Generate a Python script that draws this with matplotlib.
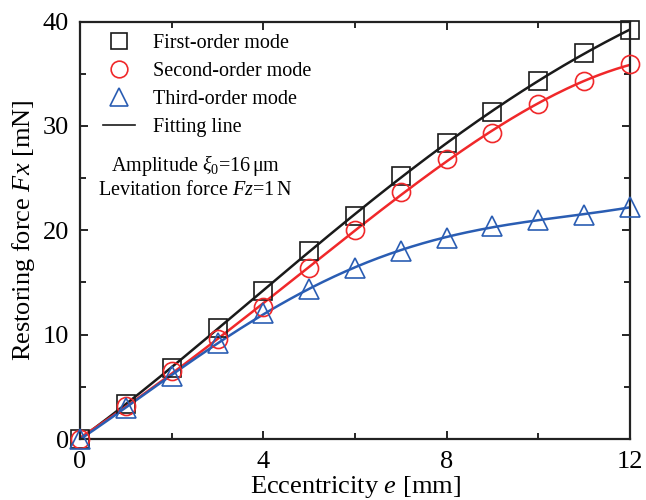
import numpy as np
import matplotlib

matplotlib.use("Agg")
import matplotlib.pyplot as plt
from matplotlib.lines import Line2D

plt.rcParams["font.family"] = ["Liberation Serif", "DejaVu Serif"]
plt.rcParams["mathtext.fontset"] = "custom"
plt.rcParams["mathtext.rm"] = "Liberation Serif"
plt.rcParams["mathtext.it"] = "Liberation Serif:italic"

# eccentricity e [mm] and restoring force Fx [mN] for each vibration mode
ecc = [0, 1, 2, 3, 4, 5, 6, 7, 8, 9, 10, 11, 12]
force_first = [0.0, 3.4, 6.8, 10.6, 14.2, 18.0, 21.4, 25.2, 28.4, 31.3, 34.3, 37.0, 39.2]
force_second = [0.0, 3.2, 6.5, 9.6, 12.6, 16.4, 20.0, 23.7, 26.8, 29.3, 32.1, 34.3, 35.9]
force_third = [0.0, 3.0, 6.0, 9.2, 12.1, 14.4, 16.4, 18.0, 19.3, 20.4, 21.0, 21.5, 22.2]

labels = ["First-order mode", "Second-order mode", "Third-order mode"]
colors = ["#1a1a1a", "#f0282a", "#2a5db3"]
markers = ["s", "o", "^"]

fig = plt.figure(figsize=(6.46, 5.0), dpi=100)
ax = fig.add_axes([80 / 646, 61 / 500, 550 / 646, 417.5 / 500])

e_fine = np.linspace(0, 12, 200)
handles = []
for ys, lab, c, m in zip([force_first, force_second, force_third], labels, colors, markers):
    # 4th-order polynomial fitting line through the computed points
    coef = np.polyfit(ecc, ys, 4)
    ax.plot(e_fine, np.polyval(coef, e_fine), color=c, lw=1.8, zorder=2)
    ax.plot(ecc, ys, ls="none", marker=m, ms=13 if m != "^" else 14,
            mfc="none", mec=c, mew=1.2, zorder=3, clip_on=False)
    handles.append(Line2D([], [], ls="none", marker=m, ms=12 if m != "^" else 13,
                          mfc="none", mec=c, mew=1.2, label=lab))
handles.append(Line2D([], [], color="#1a1a1a", lw=1.2, label="Fitting line"))

leg = ax.legend(handles=handles, loc="upper left", frameon=False, fontsize=14.5,
                handlelength=1.6, handletextpad=0.9, labelspacing=0.44,
                borderaxespad=0.2, bbox_to_anchor=(0.02, 1.0))

ax.text(0.21, 0.655, r"Amplitude $\xi_{\mathregular{0}}$=16$\,$μm", transform=ax.transAxes,
        ha="center", va="center", fontsize=14.5)
ax.text(0.21, 0.595, r"Levitation force $F$$z$=1$\,$N", transform=ax.transAxes,
        ha="center", va="center", fontsize=14.5)

ax.set_xlim(0, 12)
ax.set_ylim(0, 40)
ax.set_xticks([0, 4, 8, 12])
ax.set_xticks([2, 6, 10], minor=True)
ax.set_yticks([0, 10, 20, 30, 40])
ax.set_yticks([5, 15, 25, 35], minor=True)
ax.tick_params(which="both", direction="in", top=True, right=True,
               labelsize=19, width=1.2)
ax.tick_params(axis="x", pad=9)
ax.tick_params(axis="y", pad=8)
ax.tick_params(which="major", length=6)
ax.tick_params(which="minor", length=4)
for sp in ax.spines.values():
    sp.set_linewidth(1.6)
    sp.set_color("#222222")

ax.set_xlabel(r"Eccentricity $e$ [mm]", fontsize=19, labelpad=0)
ax.set_ylabel(r"Restoring force $F$$x$ [mN]", fontsize=19, labelpad=4)

fig.savefig("out.png", dpi=100)
